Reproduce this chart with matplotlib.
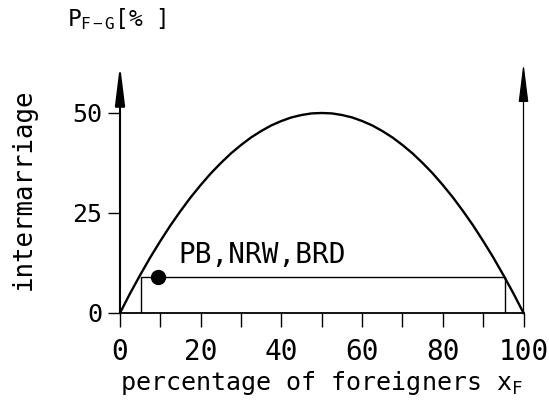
import matplotlib.pyplot as plt

plt.rcParams['font.family'] = ['DejaVu Sans Mono', 'DejaVu Sans']
plt.rcParams['mathtext.fontset'] = 'custom'
plt.rcParams['mathtext.rm'] = 'DejaVu Sans Mono'
plt.rcParams['mathtext.it'] = 'DejaVu Sans Mono'

# values
xf = [0, 2.5, 5, 7.5, 10, 12.5, 15, 17.5, 20, 22.5, 25, 27.5, 30, 32.5, 35, 37.5, 40, 42.5, 45, 47.5, 50,
      52.5, 55, 57.5, 60, 62.5, 65, 67.5, 70, 72.5, 75, 77.5, 80, 82.5, 85, 87.5, 90, 92.5, 95, 97.5, 100]
p_fg = [0, 4.9, 9.5, 13.9, 18, 21.9, 25.5, 28.9, 32, 34.9, 37.5, 39.9, 42, 43.9, 45.5, 46.9, 48, 48.9, 49.5, 49.9, 50,
        49.9, 49.5, 48.9, 48, 46.9, 45.5, 43.9, 42, 39.9, 37.5, 34.9, 32, 28.9, 25.5, 21.9, 18, 13.9, 9.5, 4.9, 0]
pb_x = 9.5
pb_y = 9
band_lo = 5.2
band_hi = 95.5
band_y = 9
xticks = list(range(0, 101, 10))
xticklabels = ['0', '', '20', '', '40', '', '60', '', '80', '', '100']
yticks = [0, 25, 50]

fig = plt.figure(figsize=(5.49, 4.12), dpi=100)
ax = fig.add_axes([120 / 549, 99 / 412, 403.5 / 549, 248 / 412])
ax.set_xlim(0, 100)
ax.set_ylim(0, 62)

for s in ['top', 'right', 'left']:
    ax.spines[s].set_visible(False)
ax.spines['bottom'].set_linewidth(1.3)

# axes with arrows
arrow = '-|>,head_length=2.4,head_width=0.3'
ax.annotate('', xy=(0, 62), xytext=(0, 0), annotation_clip=False,
            arrowprops=dict(arrowstyle=arrow, mutation_scale=10, lw=1.5,
                            color='black', shrinkA=0, shrinkB=0))
ax.annotate('', xy=(100, 62.5), xytext=(100, 0), annotation_clip=False,
            arrowprops=dict(arrowstyle=arrow, mutation_scale=10, lw=0.9,
                            color='black', shrinkA=0, shrinkB=0))

ax.plot(xf, p_fg, color='black', lw=1.7, clip_on=False)
ax.plot([band_lo, band_lo, band_hi, band_hi], [0, band_y, band_y, 0], color='black', lw=1.0)
ax.plot([pb_x], [pb_y], 'o', color='black', ms=10)
ax.text(14.4, 14.5, 'PB,NRW,BRD', fontsize=20, va='center', ha='left')

ax.set_xticks(xticks)
ax.set_xticklabels(xticklabels, fontsize=20)
ax.set_yticks(yticks)
ax.set_yticklabels([str(v) for v in yticks], fontsize=18)
ax.tick_params(axis='x', direction='out', length=10, width=1.0, pad=8)
ax.tick_params(axis='y', direction='out', length=9, width=1.0, pad=4)

ax.set_xlabel(r'percentage of foreigners x$_\mathrm{F}$', fontsize=18, labelpad=2)
ax.set_ylabel('intermarriage', fontsize=18.5, labelpad=25)
fig.text(67 / 549, 1 - 26 / 412, r'P$_\mathrm{F-G}$[% ]', fontsize=16.5, ha='left', va='baseline')

fig.savefig('out.png', dpi=100)
